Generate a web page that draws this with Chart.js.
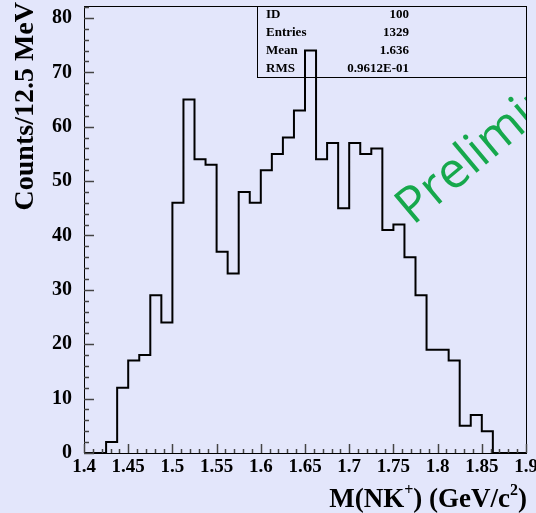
<!DOCTYPE html>
<html>
<head>
<meta charset="utf-8">
<script src="https://cdn.jsdelivr.net/npm/chart.js@4.4.1/dist/chart.umd.min.js"></script>
<style>
  html, body { margin: 0; padding: 0; background: #e3e6fb; }
  canvas { display: block; }
</style>
</head>
<body>
<canvas id="histo" width="536" height="513"></canvas>
<script>
// Histogram data: M(NK+) in 12.5 MeV bins from 1.4 to 1.9 GeV/c2
const xLow = 1.4;
const xHigh = 1.9;
const counts = [
  0, 0, 2, 12, 17, 18, 29, 24, 46, 65,
  54, 53, 37, 33, 48, 46, 52, 55, 58, 63,
  74, 54, 57, 45, 57, 55, 56, 41, 42, 36,
  29, 19, 19, 17, 5, 7, 4, 0, 0, 0
];
const xTicks = [1.4, 1.45, 1.5, 1.55, 1.6, 1.65, 1.7, 1.75, 1.8, 1.85, 1.9];
const xTickLabels = ['1.4', '1.45', '1.5', '1.55', '1.6', '1.65', '1.7', '1.75', '1.8', '1.85', '1.9'];
const yTicks = [0, 10, 20, 30, 40, 50, 60, 70, 80];
const statNames = ['ID', 'Entries', 'Mean', 'RMS'];
const statValues = ['100', '1329', '1.636', '0.9612E-01'];

// step outline: each point sits on the left edge of its bin
const binWidth = (xHigh - xLow) / counts.length;
const points = counts.map((c, i) => ({ x: xLow + i * binWidth, y: c }));
points.push({ x: xHigh, y: 0 });

const serif = '"Liberation Serif", "Times New Roman", serif';

// background, frame, ticks, stats box, titles, watermark
const decor = {
  id: 'decor',
  beforeDraw(chart) {
    const ctx = chart.ctx;
    ctx.save();
    ctx.fillStyle = '#e3e6fb';
    ctx.fillRect(0, 0, chart.width, chart.height);
    ctx.restore();
  },
  beforeDatasetsDraw(chart) {
    const ctx = chart.ctx;
    const a = chart.chartArea;
    ctx.save();
    // stats box
    const bx = 257, by = a.top, bw = a.right - 257, bh = 71;
    ctx.strokeStyle = '#000';
    ctx.lineWidth = 1;
    ctx.strokeRect(bx + 0.5, by + 0.5, bw, bh);
    ctx.fillStyle = '#000';
    ctx.font = 'bold 13px ' + serif;
    ctx.textBaseline = 'middle';
    statNames.forEach((n, i) => {
      const yy = 15 + i * 18;
      ctx.textAlign = 'left';
      ctx.fillText(n, 266, yy);
      ctx.textAlign = 'right';
      ctx.fillText(statValues[i], 409, yy);
    });
    ctx.restore();
  },
  afterDatasetsDraw(chart) {
    const ctx = chart.ctx;
    const a = chart.chartArea;
    const xs = chart.scales.x, ys = chart.scales.y;
    ctx.save();
    // watermark
    ctx.beginPath();
    ctx.rect(a.left, a.top, a.right - a.left, a.bottom - a.top);
    ctx.clip();
    ctx.translate(413, 226);
    ctx.rotate(-40 * Math.PI / 180);
    ctx.fillStyle = 'rgb(22,168,76)';
    ctx.font = '50px "Open Sans", "Noto Sans", sans-serif';
    ctx.textBaseline = 'alphabetic';
    ctx.fillText('Preliminary', 0, 0);
    ctx.restore();

    ctx.save();
    // frame
    ctx.strokeStyle = '#000';
    ctx.lineWidth = 1;
    ctx.strokeRect(Math.round(a.left) + 0.5, Math.round(a.top) + 0.5,
      Math.round(a.right - a.left), Math.round(a.bottom - a.top));
    // y ticks
    ctx.strokeStyle = '#444';
    ctx.lineWidth = 1.5;
    for (let v = 0; v <= 82; v += 2) {
      const py = Math.round(ys.getPixelForValue(v)) + 0.5;
      const len = v % 10 === 0 ? 10 : 5;
      ctx.beginPath();
      ctx.moveTo(a.left, py);
      ctx.lineTo(a.left + len, py);
      ctx.stroke();
    }
    // x ticks
    for (let k = 0; k <= 50; k++) {
      const px = Math.round(xs.getPixelForValue(xLow + k * 0.01)) + 0.5;
      const len = k % 5 === 0 ? 9 : 4;
      ctx.beginPath();
      ctx.moveTo(px, a.bottom);
      ctx.lineTo(px, a.bottom - len);
      ctx.stroke();
    }
    ctx.restore();
  },
  afterDraw(chart) {
    const ctx = chart.ctx;
    ctx.save();
    ctx.fillStyle = '#000';
    // x title with superscripts
    const big = 'bold 27px ' + serif, small = 'bold 16px ' + serif;
    const parts = [['M(NK', big, 0], ['+', small, -12], [') (GeV/c', big, 0], ['2', small, -12], [')', big, 0]];
    let total = 0;
    parts.forEach(p => { ctx.font = p[1]; total += ctx.measureText(p[0]).width; });
    let x = 527 - total;
    ctx.textBaseline = 'alphabetic';
    ctx.textAlign = 'left';
    parts.forEach(p => {
      ctx.font = p[1];
      ctx.fillText(p[0], x, 507 + p[2]);
      x += ctx.measureText(p[0]).width;
    });
    // y title
    ctx.translate(33, 2);
    ctx.rotate(-Math.PI / 2);
    ctx.font = 'bold 28px ' + serif;
    ctx.textAlign = 'right';
    ctx.fillText('Counts/12.5 MeV', 0, 0);
    ctx.restore();
  }
};

new Chart(document.getElementById('histo').getContext('2d'), {
  type: 'line',
  data: {
    datasets: [{
      data: points,
      stepped: 'before',
      borderColor: '#000',
      borderWidth: 2,
      pointRadius: 0,
      fill: false
    }]
  },
  options: {
    responsive: false,
    animation: false,
    layout: { padding: { top: 6, right: 10, left: 0, bottom: 0 } },
    plugins: { legend: { display: false }, tooltip: { enabled: false } },
    scales: {
      x: {
        type: 'linear',
        min: xLow,
        max: xHigh,
        grid: { display: false, drawTicks: false },
        border: { display: false },
        afterBuildTicks: s => { s.ticks = xTicks.map(v => ({ value: v })); },
        afterFit: s => { s.height = 60; s.paddingLeft = 0; s.paddingRight = 0; },
        ticks: {
          autoSkip: false,
          maxRotation: 0,
          padding: 3,
          color: '#000',
          font: { family: serif, size: 19, weight: 'bold' },
          callback: (v, i) => xTickLabels[i]
        }
      },
      y: {
        min: 0,
        max: 82.2,
        grid: { display: false, drawTicks: false },
        border: { display: false },
        afterBuildTicks: s => { s.ticks = yTicks.map(v => ({ value: v })); },
        afterFit: s => { s.width = 84; s.paddingTop = 0; s.paddingBottom = 0; },
        ticks: {
          padding: 12,
          color: '#000',
          font: { family: serif, size: 20, weight: 'bold' }
        }
      }
    }
  },
  plugins: [decor]
});
</script>
</body>
</html>
